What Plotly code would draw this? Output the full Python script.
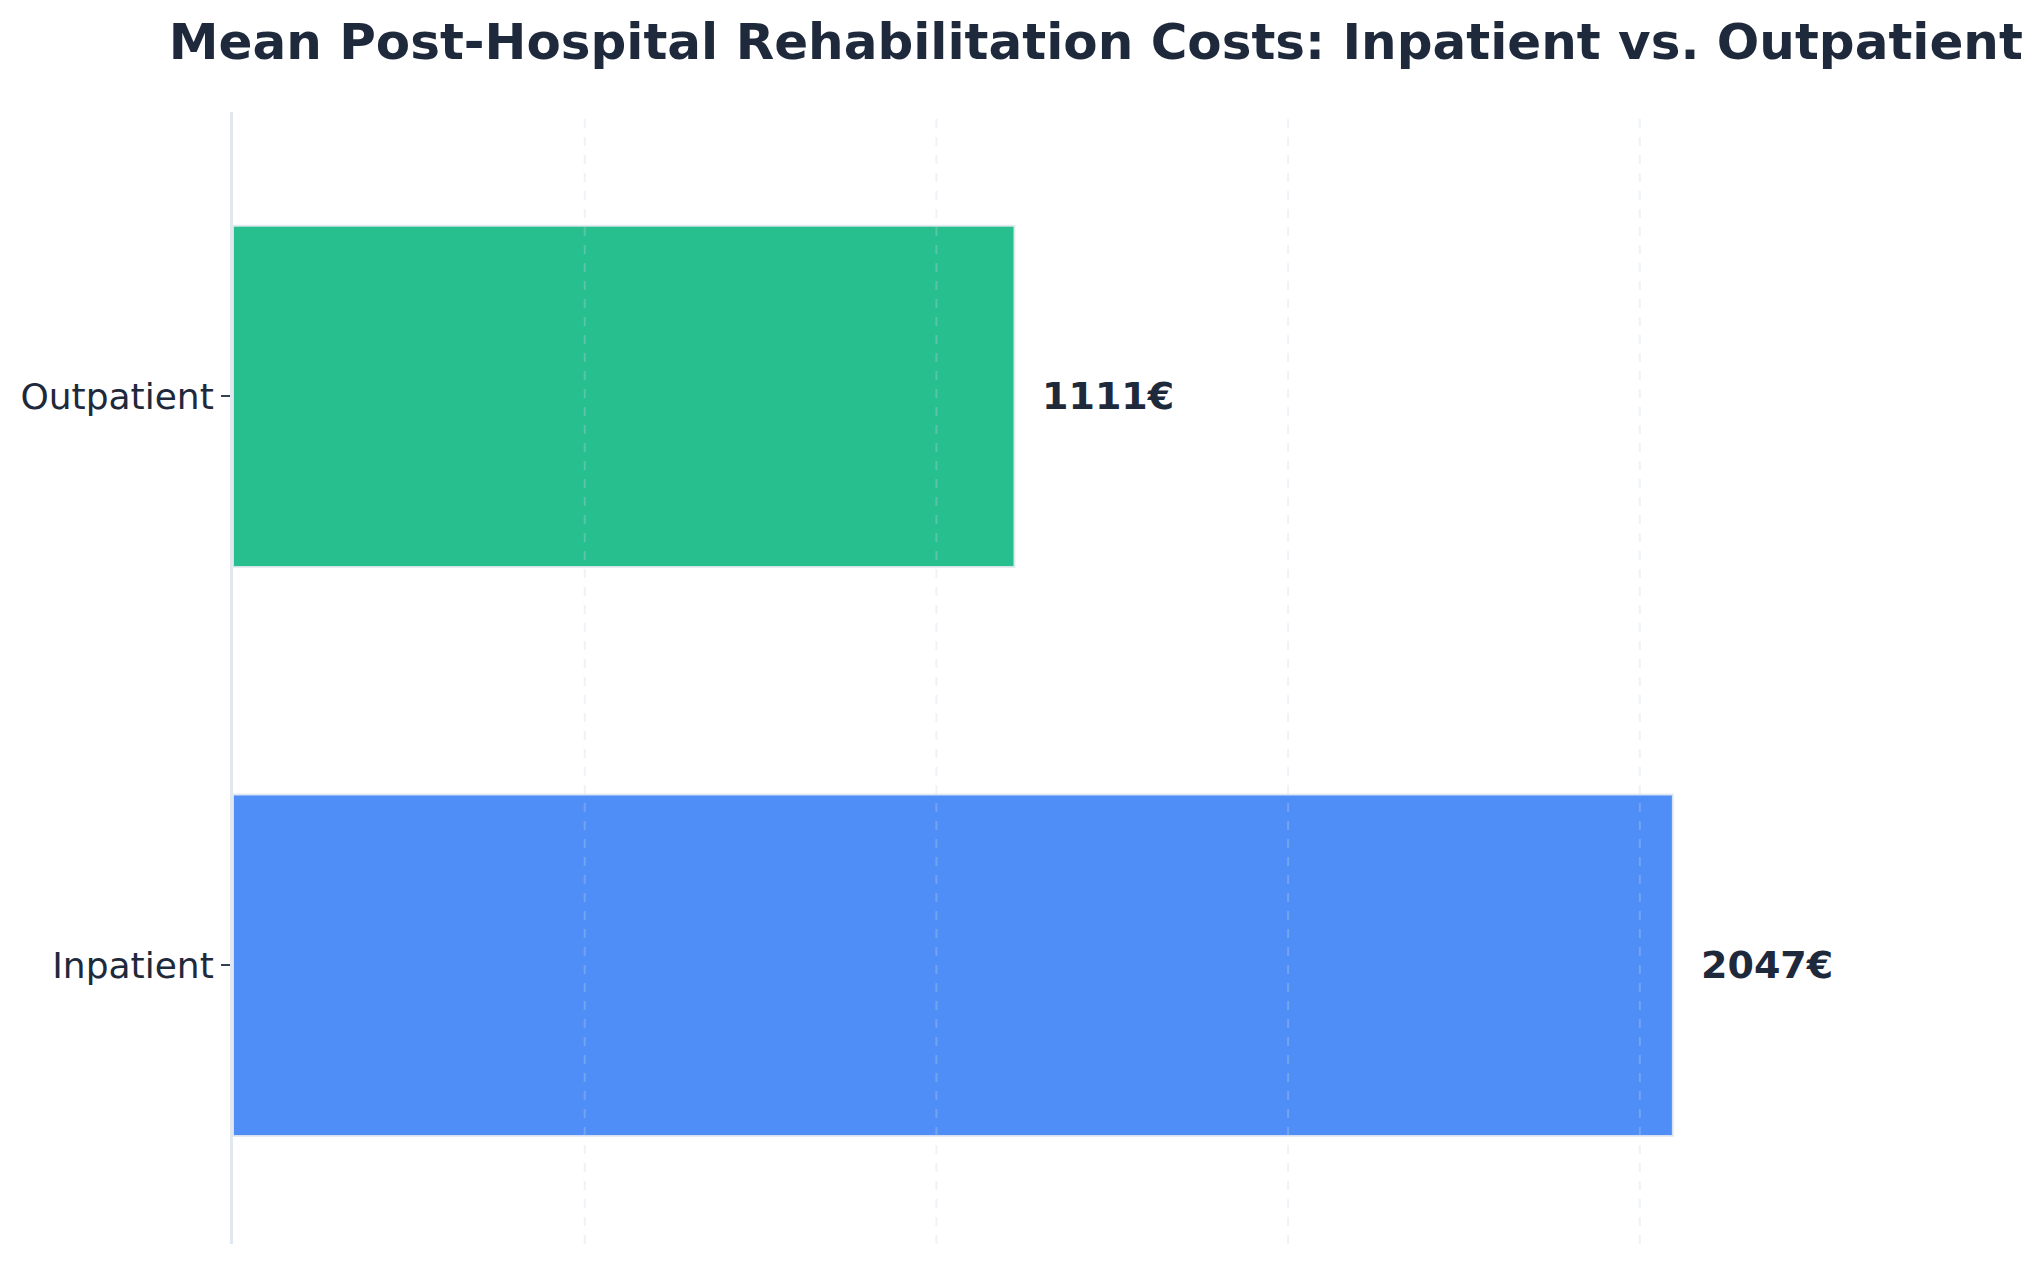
import plotly.graph_objects as go

# data
categories = ["Inpatient", "Outpatient"]
mean_costs = [2047, 1111]
bar_colors = ["#3b82f6", "#10b981"]
grid_values = [500, 1000, 1500, 2000]

text_color = "#1e293b"
font_family = "DejaVu Sans"

fig = go.Figure()

fig.add_trace(
    go.Bar(
        x=mean_costs,
        y=categories,
        orientation="h",
        width=0.6,
        marker=dict(
            color=bar_colors,
            opacity=0.9,
            line=dict(color="rgba(226,232,240,0.9)", width=2),
        ),
        hoverinfo="x+y",
    )
)

# value labels to the right of each bar
for cat, val in zip(categories, mean_costs):
    fig.add_annotation(
        x=val,
        y=cat,
        text="<b>%d€</b>" % val,
        showarrow=False,
        xanchor="left",
        yanchor="middle",
        xshift=26,
        font=dict(family=font_family, size=38, color=text_color),
    )

# dashed grid drawn on top of the bars, like the original
for gv in grid_values:
    fig.add_shape(
        type="line",
        x0=gv, x1=gv,
        y0=0, y1=1,
        xref="x", yref="paper",
        layer="above",
        line=dict(color="rgba(203,213,225,0.3)", width=2, dash="dash"),
    )

# the page adds an 8px body margin, so margins are shifted to compensate
fig.update_layout(
    width=2044,
    height=1268,
    margin=dict(l=225, r=83, t=104, b=32),
    paper_bgcolor="white",
    plot_bgcolor="white",
    showlegend=False,
    title=dict(
        text="<b>Mean Post-Hospital Rehabilitation Costs: Inpatient vs. Outpatient</b>",
        x=0.497,
        xref="paper",
        xanchor="center",
        y=1 - 51 / 1268,
        yref="container",
        yanchor="bottom",
        font=dict(family=font_family, size=50, color=text_color),
        pad=dict(b=0),
    ),
    font=dict(family=font_family, color=text_color),
)

fig.update_xaxes(
    range=[0, 2468],
    showgrid=False,
    showticklabels=False,
    ticks="",
    zeroline=False,
    showline=False,
)

fig.update_yaxes(
    range=[-0.49, 1.5],
    showgrid=False,
    zeroline=False,
    showline=True,
    linecolor="#e2e8f0",
    linewidth=3,
    ticks="outside",
    ticklen=9,
    tickwidth=1.5,
    tickcolor="#334155",
    tickfont=dict(family=font_family, size=36, color=text_color),
)

fig.write_html("out.html")
